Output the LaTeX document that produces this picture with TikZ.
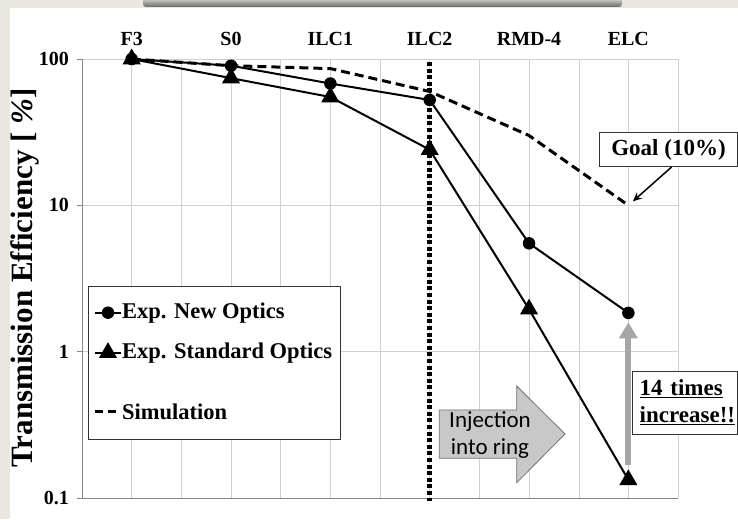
\documentclass[tikz,border=0pt]{standalone}
\usepackage{fontspec}
\setmainfont{Liberation Serif}
\newfontfamily\calibrifont{Carlito}
\usetikzlibrary{arrows.meta,shapes.geometric,calc}
\definecolor{paper}{RGB}{234,231,224}
\definecolor{gridgray}{RGB}{208,208,208}
\definecolor{axisgray}{RGB}{134,134,134}
\definecolor{arrowgray}{RGB}{166,166,166}
\definecolor{injgray}{RGB}{200,200,200}

\begin{document}
\begin{tikzpicture}[x=1pt,y=1pt,
    newmark/.style={circle,fill=black,inner sep=0pt,minimum size=12.5pt},
    stdmark/.style={regular polygon,regular polygon sides=3,fill=black,inner sep=0pt,minimum size=21pt},
    dataline/.style={line width=2pt},
    simline/.style={line width=3pt,dash pattern=on 9pt off 5pt},
    ringline/.style={line width=5pt,dash pattern=on 4pt off 2.6pt},
    catlab/.style={anchor=base,yshift=14pt,font=\bfseries\fontsize{20}{20}\selectfont},
    ticklab/.style={anchor=east,inner sep=0pt,xshift=-13pt,font=\bfseries\fontsize{20}{20}\selectfont},
    legtext/.style={anchor=west,inner sep=0pt,font=\bfseries\fontsize{22.5}{22.5}\selectfont},
    infobox/.style={draw=black!80,fill=white,line width=0.8pt,font=\bfseries\fontsize{23}{26.7}\selectfont},
    goalarrow/.style={line width=1.5pt,-{Stealth[length=9pt,width=8pt]},shorten >=6pt},
    incarrow/.style={line width=6pt,arrowgray,-{Triangle[length=16pt,width=18pt]},shorten <=4pt,shorten >=3pt},
    injarrow/.style={draw=black!55,fill=injgray,line width=0.8pt},
    injtext/.style={align=center,font=\calibrifont\fontsize{23}{26.6}\selectfont}]
  \useasboundingbox (0,0) rectangle (738,519);
  \fill[paper] (0,0) rectangle (738,519);
  \fill[white] (10,0) rectangle (738,511);
  \shade[top color=paper,bottom color=black!60,rounded corners=3pt] (143,512) rectangle (622,522);

  \begin{scope}[shift={(82,21)},x=49.67pt,y=146.33pt]
    \foreach \k in {1,...,12}
    \draw[gridgray] (\k,0) -- (\k,3);
    \foreach \d in {1,2,3}
    \draw[gridgray] (0,\d) -- (12,\d);
    \draw[axisgray] (0,3) -- (0,0) -- (12,0);
    \foreach \d/\lab in {0/0.1,1/1,2/10,3/100}{
    \draw[axisgray] (0,\d) -- ++(-5pt,0);
    \node[ticklab] (tick\d) at (0,\d) {\lab};
    }
    \foreach \lab [count=\i] in {F3,S0,ILC1,ILC2,RMD-4,ELC}{
    \node[catlab] (cat\i) at (2*\i-1,3) {\lab};
    }
    \foreach \v [count=\i] in {100,90,86,60,30,10}{
    \coordinate (m\i) at (2*\i-1,{log10(\v)+1});
    }
    \foreach \v [count=\i] in {100,90,68,52.5,5.5,1.84}{
    \coordinate (n\i) at (2*\i-1,{log10(\v)+1});
    }
    \foreach \v [count=\i] in {100,74,55,24,1.95,0.13}{
    \coordinate (s\i) at (2*\i-1,{log10(\v)+1});
    }
    \coordinate (ringtop) at (7,2.98);
    \coordinate (ringbot) at (7,-0.02);
  \end{scope}

  \draw[simline] (m1) \foreach \i in {2,...,6}{ -- (m\i)};
  \draw[dataline] (n1) \foreach \i in {2,...,6}{ -- (n\i)};
  \draw[dataline] (s1) \foreach \i in {2,...,6}{ -- (s\i)};
  \draw[ringline] (ringtop) -- (ringbot);
  \foreach \i in {1,...,6}{
  \node[stdmark] (smark\i) at (s\i) {};
  \node[newmark] (nmark\i) at (n\i) {};
  }

  \node[rotate=90,font=\bfseries\fontsize{31}{31}\selectfont] (ylabel) at (25,241) {Transmission Efficiency [ \textit{\%}]};

  \node[draw=black!80,line width=0.8pt,fill=white,minimum width=252pt,minimum height=153pt,inner sep=0pt] (legend) at (214,156.5) {};
  \draw[dataline] (95,206.3) -- (121,206.3);
  \node[newmark] (legnew) at (108,206.3) {};
  \node[legtext] (legnewtext) at (122,206.3) {Exp. New Optics};
  \draw[dataline] (95,166.3) -- (121,166.3);
  \node[stdmark] (legstd) at (108,166.3) {};
  \node[legtext] (legstdtext) at (122,166.3) {Exp. Standard Optics};
  \draw[simline,dash pattern=on 8pt off 5pt] (95,107) -- (116,107);
  \node[legtext] (legsimtext) at (122,107) {Simulation};

  \draw[injarrow] (439.3,109) -- (516.7,109) -- (516.7,133) -- (565,85) -- (516.7,36.3) -- (516.7,60.7) -- (439.3,60.7) -- cycle;
  \node[injtext] (inj) at (490,84) {Injection\\into ring};

  \draw[incarrow] (smark6.north) -- (nmark6.south);

  \node[infobox,minimum width=138.4pt,minimum height=34.4pt,inner sep=0pt] (goal) at (668.5,369.5) {Goal (10\%)};
  \draw[goalarrow] ($(goal.south)+(3pt,0)$) -- (m6);

  \node[infobox,minimum width=105pt,minimum height=63pt,text width=91pt,inner xsep=7pt,align=left] (incbox) at (685.2,116.5) {\underline{14 times}\\\underline{increase!!}};
\end{tikzpicture}
\end{document}
